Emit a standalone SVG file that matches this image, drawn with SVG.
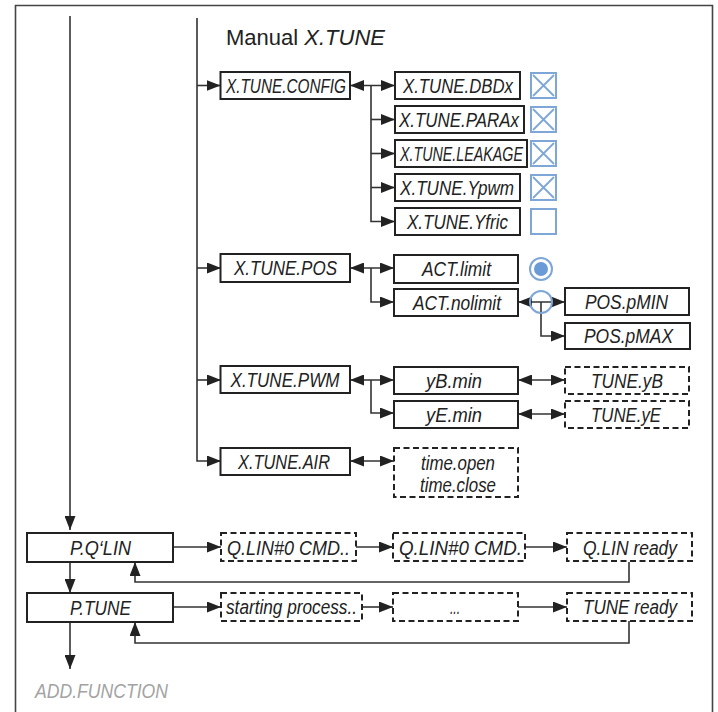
<svg xmlns="http://www.w3.org/2000/svg" width="718" height="712" viewBox="0 0 718 712">
<style>
.bx{fill:#fff;stroke:#222;stroke-width:2}
.db{fill:#fff;stroke:#222;stroke-width:2;stroke-dasharray:6 3.5}
.t{font-family:"Liberation Sans",Arial,sans-serif;font-style:italic;font-size:20px;fill:#222}
.c{fill:none;stroke:#333;stroke-width:1.6}
.cb{fill:#fff;stroke:#7ea6d6;stroke-width:2}
.cx{stroke:#7ea6d6;stroke-width:1.8}
</style>
<defs>
<marker id="ah" viewBox="0 0 14 11" refX="14" refY="5.5" markerWidth="14" markerHeight="11" markerUnits="userSpaceOnUse" orient="auto-start-reverse">
<path d="M0,0 L14,5.5 L0,11 z" fill="#222"/>
</marker>
</defs>
<path d="M15.5,716 V5.5 H712.5 V716" fill="none" stroke="#444" stroke-width="1.6"/>
<text x="226" y="45" style="font-family:'Liberation Sans',Arial,sans-serif;font-size:22px;fill:#222">Manual <tspan font-style="italic">X.TUNE</tspan></text>

<g id="connectors">
<path class="c" d="M70,16 V530" marker-end="url(#ah)"/>
<path class="c" d="M70,562 V593" marker-end="url(#ah)"/>
<path class="c" d="M70,622 V669" marker-end="url(#ah)"/>
<path class="c" d="M197,18 V461 H221" marker-end="url(#ah)"/>
<path class="c" d="M197,85.5 H220.5" marker-end="url(#ah)"/>
<path class="c" d="M197,268 H221" marker-end="url(#ah)"/>
<path class="c" d="M197,380 H221" marker-end="url(#ah)"/>
<path class="c" d="M350,85.5 H395" marker-start="url(#ah)" marker-end="url(#ah)"/>
<path class="c" d="M371,85.5 V221.5 H395" marker-end="url(#ah)"/>
<path class="c" d="M371,119.5 H395" marker-end="url(#ah)"/>
<path class="c" d="M371,153.5 H395" marker-end="url(#ah)"/>
<path class="c" d="M371,187.5 H395" marker-end="url(#ah)"/>
<path class="c" d="M350,268 H394" marker-start="url(#ah)" marker-end="url(#ah)"/>
<path class="c" d="M371,268 V302 H394" marker-end="url(#ah)"/>
<path class="c" d="M518,302 H565" marker-start="url(#ah)" marker-end="url(#ah)"/>
<path class="c" d="M541,302 V336 H565" marker-end="url(#ah)"/>
<path class="c" d="M350,380 H394" marker-start="url(#ah)" marker-end="url(#ah)"/>
<path class="c" d="M371,380 V413 H394" marker-end="url(#ah)"/>
<path class="c" d="M518,380 H565" marker-start="url(#ah)" marker-end="url(#ah)"/>
<path class="c" d="M518,414 H565" marker-start="url(#ah)" marker-end="url(#ah)"/>
<path class="c" d="M350,461 H394" marker-start="url(#ah)" marker-end="url(#ah)"/>
<path class="c" d="M173,547 H221" marker-end="url(#ah)"/>
<path class="c" d="M356,547 H393" marker-end="url(#ah)"/>
<path class="c" d="M525,547 H567" marker-end="url(#ah)"/>
<path class="c" d="M629,562 V582 H135 V562" marker-end="url(#ah)"/>
<path class="c" d="M173,607 H221" marker-end="url(#ah)"/>
<path class="c" d="M362,607 H393" marker-end="url(#ah)"/>
<path class="c" d="M518,607 H567" marker-end="url(#ah)"/>
<path class="c" d="M629,621 V643 H135 V622" marker-end="url(#ah)"/>
</g>

<g id="xtune-config"><rect class="bx" x="220.5" y="72" width="129.5" height="27"/><text class="t" x="226" y="93" textLength="120" lengthAdjust="spacingAndGlyphs">X.TUNE.CONFIG</text></g>
<g id="dbdx"><rect class="bx" x="395" y="72" width="125" height="27"/><text class="t" x="403" y="93" textLength="110" lengthAdjust="spacingAndGlyphs">X.TUNE.DBDx</text></g>
<g id="parax"><rect class="bx" x="395" y="106" width="129" height="27"/><text class="t" x="399" y="127" textLength="120" lengthAdjust="spacingAndGlyphs">X.TUNE.PARAx</text></g>
<g id="leakage"><rect class="bx" x="395" y="140" width="132" height="27"/><text class="t" x="400" y="161" textLength="123" lengthAdjust="spacingAndGlyphs">X.TUNE.LEAKAGE</text></g>
<g id="ypwm"><rect class="bx" x="395" y="174" width="125" height="27"/><text class="t" x="400" y="195" textLength="114" lengthAdjust="spacingAndGlyphs">X.TUNE.Ypwm</text></g>
<g id="yfric"><rect class="bx" x="395" y="208" width="125" height="27"/><text class="t" x="407" y="229" textLength="101" lengthAdjust="spacingAndGlyphs">X.TUNE.Yfric</text></g>

<g id="checkboxes">
<rect class="cb" x="531" y="73" width="25" height="25"/><path class="cx" d="M533,75 L554,96 M554,75 L533,96"/>
<rect class="cb" x="531" y="107" width="25" height="25"/><path class="cx" d="M533,109 L554,130 M554,109 L533,130"/>
<rect class="cb" x="531" y="141" width="25" height="25"/><path class="cx" d="M533,143 L554,164 M554,143 L533,164"/>
<rect class="cb" x="531" y="175" width="25" height="25"/><path class="cx" d="M533,177 L554,198 M554,177 L533,198"/>
<rect class="cb" x="531" y="209" width="25" height="25"/>
</g>

<g id="xtune-pos"><rect class="bx" x="220.5" y="254" width="129.5" height="28"/><text class="t" x="234" y="275" textLength="103" lengthAdjust="spacingAndGlyphs">X.TUNE.POS</text></g>
<g id="act-limit"><rect class="bx" x="394" y="255" width="124" height="28"/><text class="t" x="422" y="276" textLength="69" lengthAdjust="spacingAndGlyphs">ACT.limit</text></g>
<g id="act-nolimit"><rect class="bx" x="394" y="289" width="124" height="27"/><text class="t" x="413" y="310" textLength="88" lengthAdjust="spacingAndGlyphs">ACT.nolimit</text></g>
<g id="radios">
<circle cx="541" cy="269" r="11" fill="#fff" stroke="#7ea6d6" stroke-width="2"/><circle cx="541" cy="269" r="7" fill="#6b9bd6"/>
<circle cx="541" cy="302" r="11" fill="none" stroke="#7ea6d6" stroke-width="2"/>
</g>
<g id="pos-pmin"><rect class="bx" x="565" y="288" width="124" height="27"/><text class="t" x="585" y="309" textLength="83" lengthAdjust="spacingAndGlyphs">POS.pMIN</text></g>
<g id="pos-pmax"><rect class="bx" x="565" y="323" width="125" height="26"/><text class="t" x="584" y="343" textLength="89" lengthAdjust="spacingAndGlyphs">POS.pMAX</text></g>

<g id="xtune-pwm"><rect class="bx" x="220.5" y="366" width="129.5" height="27"/><text class="t" x="230.5" y="387" textLength="109" lengthAdjust="spacingAndGlyphs">X.TUNE.PWM</text></g>
<g id="yb-min"><rect class="bx" x="394" y="367" width="124" height="27"/><text class="t" x="426" y="388" textLength="56" lengthAdjust="spacingAndGlyphs">yB.min</text></g>
<g id="ye-min"><rect class="bx" x="394" y="401" width="124" height="27"/><text class="t" x="426" y="422" textLength="56" lengthAdjust="spacingAndGlyphs">yE.min</text></g>
<g id="tune-yb"><rect class="db" x="565" y="367" width="124" height="27"/><text class="t" x="591" y="388" textLength="72" lengthAdjust="spacingAndGlyphs">TUNE.yB</text></g>
<g id="tune-ye"><rect class="db" x="565" y="401" width="124" height="27"/><text class="t" x="591" y="422" textLength="70" lengthAdjust="spacingAndGlyphs">TUNE.yE</text></g>

<g id="xtune-air"><rect class="bx" x="220.5" y="448" width="129.5" height="27"/><text class="t" x="238" y="469" textLength="92" lengthAdjust="spacingAndGlyphs">X.TUNE.AIR</text></g>
<g id="time"><rect class="db" x="394" y="448" width="124" height="49"/><text class="t" x="421" y="470" textLength="74" lengthAdjust="spacingAndGlyphs">time.open</text><text class="t" x="420" y="492" textLength="76" lengthAdjust="spacingAndGlyphs">time.close</text></g>

<g id="pqlin"><rect class="bx" x="27" y="533" width="146" height="29"/><text class="t" x="70" y="555" textLength="61" lengthAdjust="spacingAndGlyphs">P.Q‘LIN</text></g>
<g id="qlin-cmd1"><rect class="db" x="221" y="533" width="135" height="28"/><text class="t" x="227" y="555" textLength="123" lengthAdjust="spacingAndGlyphs">Q.LIN#0 CMD..</text></g>
<g id="qlin-cmd2"><rect class="db" x="393" y="533" width="132" height="28"/><text class="t" x="399" y="555" textLength="123" lengthAdjust="spacingAndGlyphs">Q.LIN#0 CMD.</text></g>
<g id="qlin-ready"><rect class="db" x="567" y="533" width="125" height="28"/><text class="t" x="583" y="555" textLength="94" lengthAdjust="spacingAndGlyphs">Q.LIN ready</text></g>
<g id="ptune"><rect class="bx" x="27" y="593" width="146" height="29"/><text class="t" x="70" y="615" textLength="61" lengthAdjust="spacingAndGlyphs">P.TUNE</text></g>
<g id="starting"><rect class="db" x="221" y="593" width="141" height="28"/><text class="t" x="226" y="614" textLength="131" lengthAdjust="spacingAndGlyphs">starting process..</text></g>
<g id="dots"><rect class="db" x="393" y="593" width="125" height="28"/><text class="t" x="450" y="614" textLength="10" lengthAdjust="spacingAndGlyphs">...</text></g>
<g id="tune-ready"><rect class="db" x="567" y="593" width="125" height="28"/><text class="t" x="583" y="614" textLength="94" lengthAdjust="spacingAndGlyphs">TUNE ready</text></g>
<g id="add-function"><text class="t" x="35" y="698" textLength="133" lengthAdjust="spacingAndGlyphs" style="fill:#a3a3a3;font-size:20px">ADD.FUNCTION</text></g>
</svg>
